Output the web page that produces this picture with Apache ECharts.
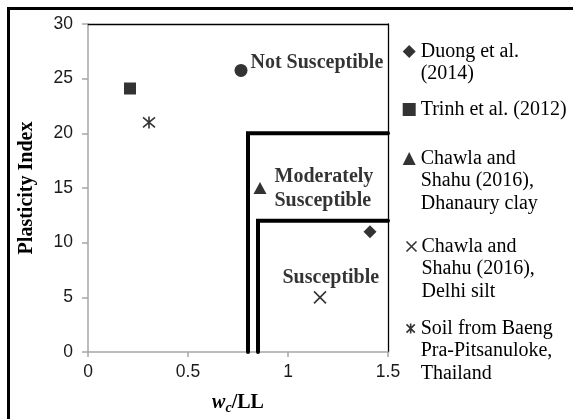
<!DOCTYPE html>
<html>
<head>
<meta charset="utf-8">
<script src="https://cdn.jsdelivr.net/npm/echarts@6/dist/echarts.min.js"></script>
<style>
html,body{margin:0;padding:0;background:#fff;}
#chart{width:573px;height:419px;}
</style>
</head>
<body>
<div id="chart"></div>
<script>
// ---- data ----
const xRange = [0, 1.5];
const xInterval = 0.5;
const yRange = [0, 30];
const yInterval = 5;

const seriesNames = [
  'Duong et al.\n(2014)',
  'Trinh et al. (2012)',
  'Chawla and\nShahu (2016),\nDhanaury clay',
  'Chawla and\nShahu (2016),\nDelhi silt',
  'Soil from Baeng\nPra-Pitsanuloke,\nThailand'
];
const duong = [[1.41, 11]];
const trinh = [[0.21, 24.1]];
const dhanaury = [[0.86, 15]];
const delhi = [[1.16, 5]];
const baeng = [[0.305, 21]];
const notSusceptibleMarker = [[0.765, 25.75]];

const boundaryModerate = [[0.8, 0], [0.8, 20], [1.5, 20]];
const boundarySusceptible = [[0.85, 0], [0.85, 12], [1.5, 12]];

const zoneNames = ['Not Susceptible', 'Moderately\nSusceptible', 'Susceptible'];
const zoneAnchors = [[0.81, 26.42], [0.93, 14.92], [0.97, 6.77]];

// ---- styling ----
const SERIF = 'Liberation Serif';
const SANS = 'Liberation Sans';
const XPATH = 'path://M0,0L10,10M10,0L0,10';
const ASTPATH = 'path://M0,0L10,10M10,0L0,10M5,-1L5,11';

const symbols = ['diamond', 'rect', 'triangle', XPATH, ASTPATH];
const symbolSizes = [13, 12, [13, 12], 12, 12];
const hollow = [false, false, false, true, true];
const datasets = [duong, trinh, dhanaury, delhi, baeng];
const legendFirstLineY = [51.5, 109.5, 158.5, 246.5, 328.5];

const chart = echarts.init(document.getElementById('chart'), null, {renderer: 'canvas'});

const scatterSeries = datasets.map((d, i) => ({
  name: seriesNames[i],
  type: 'scatter',
  data: d,
  symbol: symbols[i],
  symbolSize: symbolSizes[i],
  itemStyle: hollow[i]
    ? {color: 'transparent', borderColor: '#000', borderWidth: 1.6}
    : {color: '#000'},
  z: 5
}));

const LH = 22.5;
const legends = seriesNames.map((name, i) => {
  const n = name.split('\n').length;
  const iw = hollow[i] ? 10 : 13;
  const c = legendFirstLineY[i];
  // the text block (with n-1 blank lead lines) is centred on the icon
  const top = c - (2 * n - 1) * LH / 2;
  return {
    data: [hollow[i]
      ? {name: name, icon: symbols[i], itemStyle: {color: 'transparent', borderColor: '#000', borderWidth: 1.6}}
      : {name: name, icon: symbols[i]}],
    orient: 'vertical',
    left: 420.7 - 5 - iw,
    top: top,
    padding: 0,
    itemWidth: iw,
    itemHeight: hollow[i] ? 10 : 13,
    selectedMode: false,
    formatter: nm => '\n'.repeat(nm.split('\n').length - 1) + nm,
    textStyle: {
      fontFamily: SERIF,
      fontSize: 20,
      color: '#000',
      lineHeight: LH
    }
  };
});

const axisGray = '#a6a6a6';

const option = {
  animation: false,
  backgroundColor: '#fff',
  grid: {left: 88, right: 185, top: 24, bottom: 67, containLabel: false, outerBoundsMode: 'none'},
  legend: legends,
  graphic: [{
    type: 'rect',
    silent: true,
    z: 100,
    shape: {x: 8.5, y: 8.5, width: 900, height: 900},
    style: {fill: 'none', stroke: '#000', lineWidth: 3}
  }],
  xAxis: [{
    type: 'value',
    min: xRange[0], max: xRange[1], interval: xInterval,
    name: '{w|w}{c|c}{b|/LL}',
    nameLocation: 'middle',
    nameGap: 38,
    nameTextStyle: {
      rich: {
        w: {fontFamily: SERIF, fontSize: 20, fontWeight: 'bold', fontStyle: 'italic', color: '#000'},
        c: {fontFamily: SERIF, fontSize: 14, fontWeight: 'bold', fontStyle: 'italic', color: '#000', padding: [11, 0, 0, 0]},
        b: {fontFamily: SERIF, fontSize: 20, fontWeight: 'bold', color: '#000'}
      }
    },
    axisLine: {show: true, onZero: false, lineStyle: {color: axisGray, width: 1.5}},
    axisTick: {show: true, inside: false, length: 5, lineStyle: {color: axisGray, width: 1.5}},
    axisLabel: {fontFamily: SANS, fontSize: 17.5, color: '#1a1a1a', margin: 11},
    splitLine: {show: false}
  }, {
    type: 'value', position: 'top',
    min: xRange[0], max: xRange[1], interval: xInterval,
    axisLine: {show: true, onZero: false, lineStyle: {color: '#000', width: 1.3}},
    axisTick: {show: false}, axisLabel: {show: false}, splitLine: {show: false}
  }],
  yAxis: [{
    type: 'value',
    min: yRange[0], max: yRange[1], interval: yInterval,
    name: 'Plasticity Index',
    nameLocation: 'middle',
    nameGap: 51,
    nameTextStyle: {fontFamily: SERIF, fontSize: 20, fontWeight: 'bold', color: '#000'},
    axisLine: {show: true, onZero: false, lineStyle: {color: axisGray, width: 1.5}},
    axisTick: {show: true, inside: false, length: 6, lineStyle: {color: axisGray, width: 1.5}},
    axisLabel: {fontFamily: SANS, fontSize: 17.5, color: '#1a1a1a', margin: 15},
    splitLine: {show: false}
  }, {
    type: 'value', position: 'right',
    min: yRange[0], max: yRange[1], interval: yInterval,
    axisLine: {show: true, onZero: false, lineStyle: {color: '#000', width: 1.3}},
    axisTick: {show: false}, axisLabel: {show: false}, splitLine: {show: false}
  }],
  series: [
    ...scatterSeries,
    {
      name: 'marker',
      type: 'scatter',
      data: notSusceptibleMarker,
      symbol: 'circle',
      symbolSize: 13,
      itemStyle: {color: '#000'},
      z: 5
    },
    {
      name: 'boundary1', type: 'line', data: boundaryModerate,
      symbol: 'none', clip: false,
      lineStyle: {color: '#000', width: 4, cap: 'round', join: 'miter'}, z: 4
    },
    {
      name: 'boundary2', type: 'line', data: boundarySusceptible,
      symbol: 'none', clip: false,
      lineStyle: {color: '#000', width: 4, cap: 'round', join: 'miter'}, z: 4
    },
    {
      name: 'zones', type: 'scatter', symbol: 'circle', symbolSize: 1,
      itemStyle: {color: 'rgba(0,0,0,0)'},
      data: zoneNames.map((nm, i) => ({name: nm, value: zoneAnchors[i]})),
      label: {
        show: true, position: 'right', distance: 0, formatter: '{b}',
        fontFamily: SERIF, fontSize: 20, fontWeight: 'bold', color: '#000',
        lineHeight: 24, align: 'left', verticalAlign: 'middle'
      },
      z: 6
    }
  ]
};
chart.setOption(option);
</script>
</body>
</html>
